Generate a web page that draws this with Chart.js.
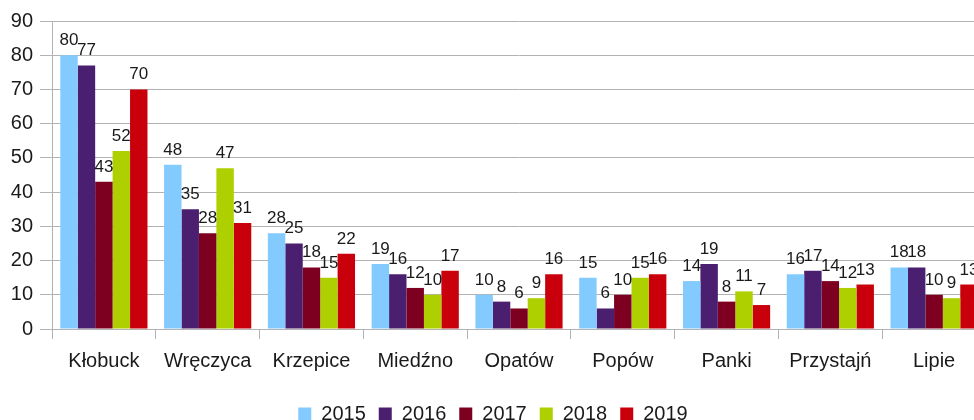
<!DOCTYPE html>
<html>
<head>
<meta charset="utf-8">
<script src="https://cdn.jsdelivr.net/npm/chart.js@4/dist/chart.umd.min.js"></script>
<style>
  html, body { margin: 0; padding: 0; background: #fff; overflow: hidden; }
  .chart-wrap { position: relative; width: 986px; height: 434px; }
</style>
</head>
<body>
<div class="chart-wrap"><canvas id="chart"></canvas></div>
<script>
const CATEGORIES = ['Kłobuck', 'Wręczyca', 'Krzepice', 'Miedźno', 'Opatów', 'Popów', 'Panki', 'Przystajń', 'Lipie'];
const YEARS = ['2015', '2016', '2017', '2018', '2019'];
const VALUES_2015 = [80, 48, 28, 19, 10, 15, 14, 16, 18];
const VALUES_2016 = [77, 35, 25, 16, 8, 6, 19, 17, 18];
const VALUES_2017 = [43, 28, 18, 12, 6, 10, 8, 14, 10];
const VALUES_2018 = [52, 47, 15, 10, 9, 15, 11, 12, 9];
const VALUES_2019 = [70, 31, 22, 17, 16, 16, 7, 13, 13];
const Y_TICKS = [0, 10, 20, 30, 40, 50, 60, 70, 80, 90];

const COLORS = ['#83caff', '#4b1f6f', '#7e0021', '#aecf00', '#c9000b'];
const TEXT_COLOR = '#1a1a1a';
const GRID_COLOR = '#b3b3b3';
const FONT = '"Liberation Sans", Arial, sans-serif';

const SERIES = [VALUES_2015, VALUES_2016, VALUES_2017, VALUES_2018, VALUES_2019];

// value labels above every bar
const barLabels = {
  id: 'barLabels',
  afterDatasetsDraw(chart) {
    const { ctx } = chart;
    ctx.save();
    ctx.fillStyle = TEXT_COLOR;
    ctx.font = '17px ' + FONT;
    ctx.textAlign = 'center';
    ctx.textBaseline = 'alphabetic';
    chart.data.datasets.forEach((ds, i) => {
      chart.getDatasetMeta(i).data.forEach((bar, j) => {
        ctx.fillText(String(ds.data[j]), bar.x, bar.y - 10);
      });
    });
    ctx.restore();
  },
};

new Chart(document.getElementById('chart'), {
  type: 'bar',
  data: {
    labels: CATEGORIES,
    datasets: SERIES.map((data, i) => ({
      label: YEARS[i],
      data,
      backgroundColor: COLORS[i],
      borderWidth: 0,
      barPercentage: 1,
      categoryPercentage: 0.84,
    })),
  },
  options: {
    responsive: true,
    maintainAspectRatio: false,
    animation: false,
    layout: { padding: { top: 21, right: 0, left: 0, bottom: 0 } },
    plugins: {
      legend: {
        position: 'bottom',
        labels: {
          color: TEXT_COLOR,
          font: { family: FONT, size: 20 },
          boxWidth: 13,
          boxHeight: 13,
          padding: 13,
        },
      },
      tooltip: { enabled: false },
    },
    scales: {
      x: {
        afterFit(scale) { scale.height += 8; },
        grid: {
          offset: true,
          drawOnChartArea: false,
          drawTicks: true,
          tickLength: 10,
          color: GRID_COLOR,
        },
        border: { color: GRID_COLOR },
        ticks: {
          color: TEXT_COLOR,
          font: { family: FONT, size: 20 },
          padding: 10,
          maxRotation: 0,
          autoSkip: false,
        },
      },
      y: {
        min: 0,
        max: 90,
        afterBuildTicks(scale) {
          scale.ticks = Y_TICKS.map((v) => ({ value: v }));
        },
        afterFit(scale) { scale.width = 52; },
        grid: { color: GRID_COLOR, tickLength: 12 },
        border: { color: GRID_COLOR },
        ticks: {
          color: TEXT_COLOR,
          font: { family: FONT, size: 20 },
          padding: 7,
        },
      },
    },
  },
  plugins: [barLabels],
});
</script>
</body>
</html>
